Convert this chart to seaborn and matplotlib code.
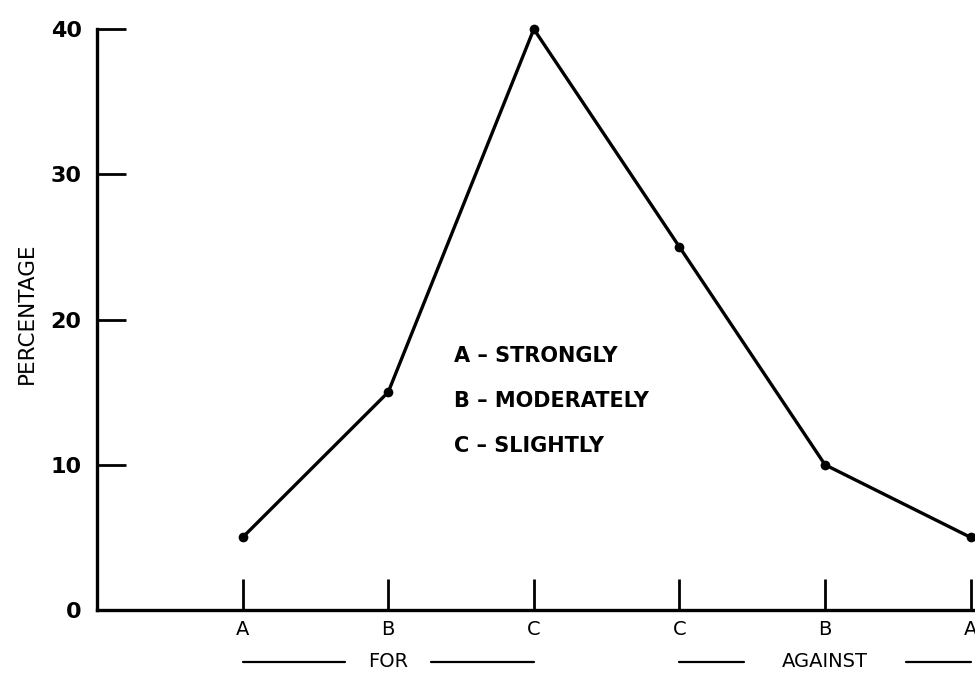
import seaborn as sns
import matplotlib.pyplot as plt
import pandas as pd

sns.set_style("white")
plt.rcParams['font.family'] = ['DejaVu Sans']
plt.rcParams['text.color'] = 'black'

# data
categories = ["A", "B", "C", "C", "B", "A"]
groups = ["FOR", "FOR", "FOR", "AGAINST", "AGAINST", "AGAINST"]
percentage = [5, 15, 40, 25, 10, 5]
y_ticks = [0, 10, 20, 30, 40]
key_lines = ["A – STRONGLY", "B – MODERATELY", "C – SLIGHTLY"]

df = pd.DataFrame({"pos": range(len(categories)), "cat": categories,
                   "group": groups, "pct": percentage})

fig = plt.figure(figsize=(9.75, 6.75), dpi=100)
ax = fig.add_axes([0.0995, 0.0963, 0.9005, 0.88])

sns.lineplot(data=df, x="pos", y="pct", color="black", linewidth=2.4,
             marker="o", markersize=7, markeredgewidth=0, ax=ax, clip_on=False)

ax.set_xlim(-1, 5.03)
ax.set_ylim(0, 40.9)
sns.despine(ax=ax)
for s in ["left", "bottom"]:
    ax.spines[s].set_linewidth(2.4)
    ax.spines[s].set_color("black")
ax.spines["left"].set_bounds(0, 40)

ax.set_xticks(df["pos"])
ax.set_xticklabels(categories, fontsize=14)
ax.set_yticks(y_ticks)
ax.set_yticklabels(y_ticks, fontsize=16, fontweight="bold")
ax.tick_params(axis="x", bottom=True, direction="in", length=22, width=2,
               pad=7, colors="black")
ax.tick_params(axis="y", left=True, direction="in", length=21, width=2,
               pad=11, colors="black")
ax.set_xlabel("")
ax.set_ylabel("PERCENTAGE", fontsize=15.5, labelpad=10, color="black")

# key text
for i, t in enumerate(key_lines):
    ax.text(1.45, 17.5 - i * 3.1, t, fontsize=15, fontweight="bold",
            va="center", ha="left")

# FOR / AGAINST group labels under the ticks
trans = ax.get_xaxis_transform()
for name in ["FOR", "AGAINST"]:
    sub = df[df["group"] == name]
    x0, x1 = sub["pos"].min(), sub["pos"].max()
    mid = (x0 + x1) / 2
    half = 0.065 * len(name) + 0.1
    ax.text(mid, -0.087, name, fontsize=14, ha="center", va="center",
            transform=trans)
    ax.plot([x0, mid - half], [-0.087, -0.087], color="black", lw=1.6,
            transform=trans, clip_on=False)
    ax.plot([mid + half, x1], [-0.087, -0.087], color="black", lw=1.6,
            transform=trans, clip_on=False)

plt.savefig("out.png", dpi=100)
